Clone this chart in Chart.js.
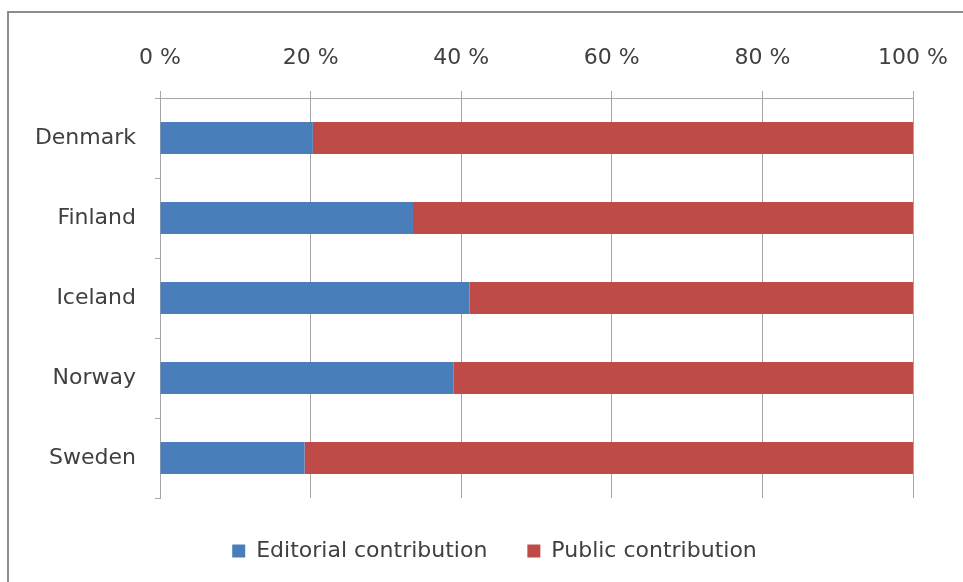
<!DOCTYPE html>
<html>
<head>
<meta charset="utf-8">
<script src="https://cdn.jsdelivr.net/npm/chart.js@4.4.1/dist/chart.umd.min.js"></script>
<style>
  html, body { margin: 0; padding: 0; background: #fff; }
  canvas { display: block; }
</style>
</head>
<body>
<canvas id="myChart" width="963" height="582"></canvas>
<script>
const countries = ['Denmark', 'Finland', 'Iceland', 'Norway', 'Sweden']
const editorial = [20.3, 33.6, 41.1, 39.0, 19.2]
const publicShare = [79.7, 66.4, 58.9, 61.0, 80.8]
const percentTicks = [0, 20, 40, 60, 80, 100]

const gridGray = '#a6a6a6'
const textGray = '#404040'

Chart.defaults.font.family = '"DejaVu Sans", sans-serif'
Chart.defaults.font.size = 22
Chart.defaults.color = textGray

// Frame around the whole chart, the right and bottom edges run off the canvas
const outerFrame = {
    id: 'outerFrame',
    beforeDraw(chart) {
        const c = chart.ctx
        c.save()
        c.strokeStyle = '#8c8c8c'
        c.lineWidth = 2
        c.beginPath()
        c.moveTo(8, 600)
        c.lineTo(8, 12)
        c.lineTo(980, 12)
        c.stroke()
        c.restore()
    }
}

// Legend sits a little right of the canvas centre, under the plot
const legendShift = {
    id: 'legendShift',
    afterLayout(chart) {
        chart.legend.left += 38
        chart.legend.right += 38
        chart.legend.top += 2
        chart.legend.bottom += 2
    }
}

const ctx = document.getElementById('myChart').getContext('2d')

const myChart = new Chart(ctx, {
    type: 'bar',
    data: {
        labels: countries,
        datasets: [{
            label: 'Editorial contribution',
            data: editorial,
            backgroundColor: '#4a7ebb',
            barPercentage: 0.4,
            categoryPercentage: 1
        }, {
            label: 'Public contribution',
            data: publicShare,
            backgroundColor: '#be4b48',
            barPercentage: 0.4,
            categoryPercentage: 1
        }]
    },
    options: {
        indexAxis: 'y',
        responsive: false,
        animation: false,
        layout: {
            padding: { left: 0, right: 50, top: 0, bottom: 12 }
        },
        scales: {
            x: {
                position: 'top',
                stacked: true,
                min: 0,
                max: 100,
                afterBuildTicks: (scale) => {
                    scale.ticks = percentTicks.map(v => ({ value: v }))
                },
                afterFit: (scale) => {
                    scale.height = 98
                    scale.paddingLeft = 0
                    scale.paddingRight = 0
                },
                ticks: {
                    padding: 20,
                    callback: (v) => v + ' %'
                },
                grid: {
                    color: gridGray,
                    tickLength: 7,
                    tickColor: gridGray
                },
                border: { color: gridGray }
            },
            y: {
                stacked: true,
                afterFit: (scale) => { scale.width = 160 },
                ticks: { padding: 19 },
                grid: {
                    offset: true,
                    drawOnChartArea: false,
                    tickLength: 5,
                    tickColor: gridGray
                },
                border: { color: gridGray }
            }
        },
        plugins: {
            legend: {
                position: 'bottom',
                labels: {
                    boxWidth: 13,
                    boxHeight: 13,
                    padding: 40
                }
            },
            tooltip: { enabled: false }
        }
    },
    plugins: [outerFrame, legendShift]
})
</script>
</body>
</html>
